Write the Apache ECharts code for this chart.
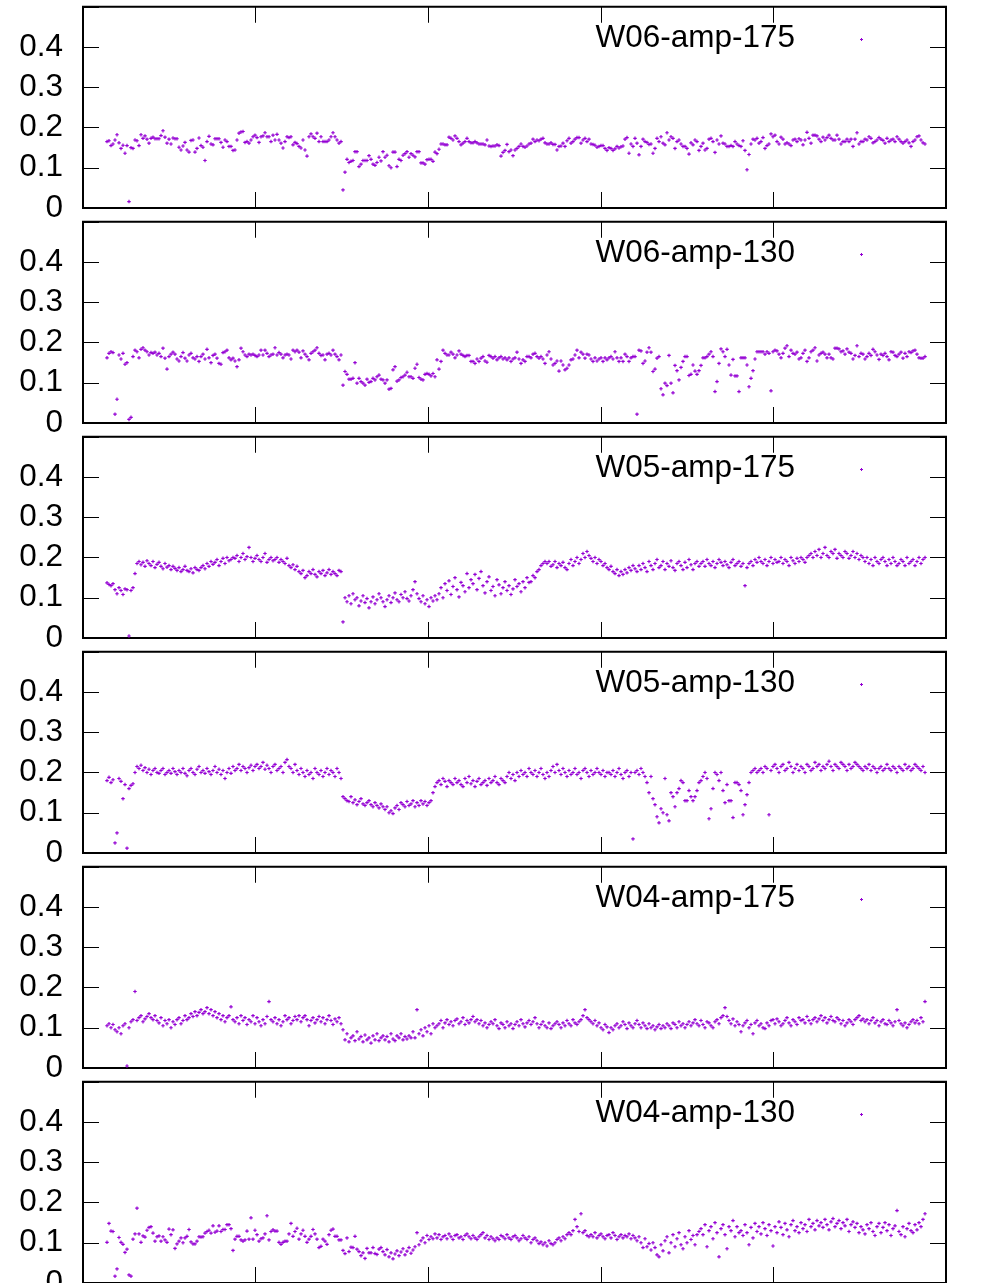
<!DOCTYPE html>
<html><head><meta charset="utf-8">
<script src="https://cdn.jsdelivr.net/npm/echarts/dist/echarts.min.js"></script>
<style>html,body{margin:0;padding:0;background:#fff}#c{width:983px;height:1283px}</style>
</head><body><div id="c"></div><script>
const seriesNames = ['W06-amp-175','W06-amp-130','W05-amp-175','W05-amp-130','W04-amp-175','W04-amp-130'];
const yTicks = [0, 0.1, 0.2, 0.3, 0.4];
const xTicks = [100, 200, 300, 400];

const w06amp175 = [
0.165,0.167,0.155,0.159,0.169,0.182,0.162,0.148,0.156,0.136,0.155,0.016,
0.150,0.148,0.169,0.167,0.155,0.182,0.173,0.179,0.171,0.161,0.173,0.176,0.172,0.172,0.172,0.18,0.192,0.176,0.161,0.171,0.159,0.174,0.172,0.172,0.151,0.144,0.154,0.163,0.144,0.139,0.168,0.169,0.139,0.148,0.174,0.155,0.151,0.118,0.165,0.178,0.159,0.157,0.172,0.172,0.172,0.163,0.151,
0.169,0.165,0.153,0.153,0.143,0.144,0.169,0.186,0.189,0.19,0.163,0.165,0.161,0.169,0.177,0.181,0.175,0.163,0.177,0.179,0.187,0.177,0.177,0.165,0.181,0.169,0.183,0.169,0.161,0.149,0.165,0.177,0.175,0.177,0.157,0.163,0.16,0.153,0.149,0.169,0.144,0.129,0.177,0.184,0.177,0.173,0.186,0.165,0.177,0.165,0.165,0.165,0.169,0.177,0.187,0.177,0.169,0.161,0.165,
0.045,
0.089,0.121,0.113,0.116,0.118,0.14,0.14,0.103,0.109,0.118,0.118,0.118,0.13,0.121,0.109,0.106,0.113,0.126,0.117,0.14,0.126,0.131,0.105,0.1,0.139,0.139,0.103,0.121,0.118,0.131,0.135,0.14,0.126,0.135,0.131,0.127,0.14,0.14,0.112,0.112,0.109,0.12,0.121,0.121,0.116,0.139,0.135,0.146,0.159,0.159,0.157,0.157,0.176,
0.173,0.169,0.179,0.173,0.165,0.157,0.161,0.165,0.173,0.165,0.162,0.162,0.165,0.162,0.159,0.159,0.159,0.157,0.169,0.154,0.153,0.154,0.154,0.157,0.155,0.129,0.138,0.143,0.158,0.14,0.144,0.13,0.144,0.148,0.153,0.159,0.153,0.151,0.154,0.159,0.161,0.171,0.165,0.169,0.167,0.171,0.173,0.162,0.159,0.159,0.162,0.158,
0.158,0.144,0.153,0.154,0.161,0.153,0.167,0.173,0.161,0.165,0.171,0.175,0.175,0.161,0.169,0.173,0.165,0.171,0.159,0.158,0.156,0.151,
0.153,0.155,0.155,0.148,0.143,0.15,0.148,0.143,0.147,0.153,0.149,0.152,0.154,0.171,0.175,0.136,0.159,0.153,0.173,0.161,0.132,0.153,0.171,0.165,0.163,0.158,
0.159,0.136,0.148,0.173,0.165,0.177,0.161,0.157,0.187,0.169,0.177,0.173,0.148,0.165,0.169,0.159,0.153,0.153,0.148,0.134,0.162,0.157,0.169,0.165,
0.143,0.153,0.161,0.144,0.148,0.171,0.173,0.165,0.138,0.169,0.159,0.179,0.161,0.159,0.153,0.153,0.155,0.153,0.165,0.159,
0.155,0.153,0.167,0.143,0.095,0.133,0.159,0.171,0.169,0.173,0.161,0.165,0.175,0.148,0.155,0.159,0.184,0.177,0.181,0.165,
0.159,0.176,0.171,0.159,0.162,0.159,0.155,0.169,0.171,0.165,0.172,0.169,0.157,0.169,0.188,0.173,0.161,0.181,0.181,0.179,0.171,0.165,0.176,0.169,
0.175,0.181,0.173,0.169,0.169,0.181,0.171,0.159,0.165,0.165,0.171,0.165,0.171,0.153,0.171,0.187,0.159,0.165,0.165,0.171,
0.169,0.177,0.173,0.162,0.165,0.169,0.175,0.171,0.168,0.161,0.173,0.165,0.169,0.171,
0.165,0.177,0.171,0.165,0.161,0.165,0.169,0.162,0.153,0.165,0.169,0.177,0.179,0.169,0.162,0.159
];

const w06amp130 = [
0.162,0.173,0.177,0.175,0.022,0.059,0.169,0.159,0.173,0.146,
0.15,0.009,0.014,0.165,0.181,0.177,0.162,0.183,0.187,0.181,
0.177,0.169,0.175,0.173,0.176,0.169,0.173,0.165,0.186,0.161,
0.134,0.165,0.171,0.176,0.171,0.159,0.154,0.165,0.175,0.161,
0.154,0.169,0.173,0.162,0.159,0.165,0.153,0.165,0.171,0.159,
0.183,0.162,0.15,0.168,0.171,0.161,0.148,0.146,0.175,0.177,
0.181,0.162,0.157,0.161,0.154,0.14,0.157,0.186,0.177,0.169,
0.165,0.171,0.169,0.171,0.168,0.165,0.169,0.181,0.169,0.181,
0.173,0.165,0.169,0.171,0.187,0.169,0.175,0.171,0.162,0.169,
0.171,0.169,0.159,0.181,0.177,0.181,0.176,0.162,0.179,0.171,
0.165,0.157,0.173,0.177,0.181,0.187,0.173,0.168,0.169,0.157,
0.171,0.173,0.169,0.181,0.171,0.165,0.157,0.169,
0.094,0.128,0.121,0.109,0.109,0.111,0.15,0.099,0.111,0.103,
0.099,0.094,0.109,0.101,0.103,0.111,0.107,0.115,0.119,0.109,
0.107,0.099,0.107,0.084,0.086,0.132,0.14,0.104,0.107,0.113,
0.115,0.119,0.126,0.115,0.115,0.111,0.136,0.146,0.113,0.109,
0.107,0.121,0.123,0.121,0.117,0.123,0.115,0.157,0.134,0.153,
0.181,0.173,0.169,0.169,0.176,0.171,0.162,0.169,0.179,0.171,
0.168,0.165,0.168,0.168,0.153,0.153,0.148,0.159,0.153,0.161,
0.165,0.154,0.151,0.168,0.165,0.161,0.165,0.157,0.162,0.165,
0.159,0.162,0.157,0.162,0.153,0.159,0.162,0.176,0.159,0.148,
0.157,0.153,0.165,0.165,0.162,0.171,0.173,0.165,0.161,0.165,
0.159,0.148,0.169,0.177,0.159,0.144,0.148,0.154,0.129,0.154,
0.144,0.132,0.136,0.144,0.157,0.159,0.169,0.181,0.162,0.176,
0.171,0.161,0.171,0.169,0.159,0.153,0.162,0.154,0.159,0.162,
0.153,0.162,0.157,0.162,0.165,0.159,0.177,0.162,0.153,0.162,
0.153,0.171,0.165,0.153,0.162,0.165,0.165,0.022,0.181,0.179,
0.148,0.154,0.176,0.187,0.176,0.128,0.134,0.161,0.165,0.085,
0.07,
0.099,0.093,0.168,0.099,0.075,0.143,0.13,0.107,0.138,0.153,
0.165,0.165,0.118,0.121,0.144,0.129,0.121,0.13,0.143,0.162,
0.162,0.165,0.171,0.177,0.165,0.078,0.103,0.148,0.184,0.177,
0.165,0.183,0.144,0.119,0.158,0.117,0.117,0.078,0.162,0.162,
0.162,0.144,0.09,0.111,0.13,0.159,0.177,
0.177,0.177,0.177,0.171,0.177,0.173,0.08,0.177,0.181,0.179,
0.171,0.162,0.173,0.186,0.192,0.165,0.181,0.173,0.171,0.176,
0.159,0.162,0.173,0.181,0.153,0.162,0.177,0.181,0.187,0.154,
0.169,0.173,0.176,0.171,0.162,0.171,0.162,0.159,0.186,0.186,
0.184,0.177,0.179,0.171,0.184,0.176,0.173,0.159,0.168,0.192,
0.165,0.173,0.171,0.159,0.165,0.173,0.168,0.183,0.177,0.169,
0.158,0.171,0.168,0.173,0.165,0.157,0.177,0.176,0.168,0.165,
0.171,0.176,0.161,0.173,0.165,0.177,0.175,0.179,0.181,0.171,
0.162,0.161,0.161,0.165
];

const w05amp175 = [
0.137,0.133,0.13,0.135,0.12,0.11,0.125,0.118,0.108,0.122,0.12,
0.005,
0.118,0.125,0.16,
0.185,0.19,0.182,0.188,0.178,0.192,0.185,0.18,0.19,0.175,0.183,0.188,0.178,0.172,0.185,0.176,0.18,0.17,0.178,0.173,
0.168,0.175,0.165,0.17,0.178,0.168,0.165,0.172,0.162,0.175,0.17,0.168,
0.175,0.18,0.172,0.185,0.178,0.19,0.183,0.188,0.195,0.18,0.19,0.198,0.185,0.2,0.192,0.195,0.2,
0.198,0.205,0.19,0.2,0.21,0.195,0.202,0.225,0.2,0.19,0.198,0.205,0.195,0.19,0.2,0.21,0.188,0.195,0.2,0.192,
0.195,0.2,0.188,0.195,0.19,0.185,0.198,0.18,
0.175,0.182,0.17,0.178,0.165,0.16,0.168,0.15,
0.155,0.165,0.16,0.17,0.158,0.152,0.165,0.16,0.168,0.155,0.162,0.17,0.158,0.165,0.16,0.155,0.168,0.165,
0.04,
0.1,0.09,0.105,0.085,0.11,0.095,0.1,0.08,0.092,0.105,0.088,0.098,0.075,0.09,0.102,0.085,0.095,0.11,0.1,0.09,0.078,0.095,0.105,0.088,0.1,0.112,0.095,0.09,0.108,0.1,0.115,0.098,0.092,0.105,0.12,0.14,0.11,0.098,0.09,0.105,0.085,0.095,0.078,0.1,0.092,0.105,
0.095,0.11,0.125,0.1,0.135,0.118,0.142,0.108,0.128,0.15,0.12,0.102,0.138,0.13,0.115,0.16,0.125,0.145,0.135,0.158,0.12,0.148,0.165,0.13,0.112,0.14,0.152,0.118,0.128,0.105,0.145,0.132,0.11,0.125,0.14,0.118,0.13,0.108,0.122,0.145,0.128,0.135,0.115,0.14,0.125,0.15,0.138,
0.14,0.155,0.15,0.165,0.17,0.18,0.185,0.19,
0.185,0.19,0.178,0.182,0.19,0.175,0.185,0.18,0.188,0.175,0.17,0.185,0.195,0.18,0.19,0.2,0.185,0.195,0.21,0.2,0.215,0.205,0.198,0.19,0.2,0.185,0.195,
0.19,0.18,0.185,0.175,0.17,0.178,0.165,0.16,0.17,0.155,0.165,0.158,0.17,0.162,0.175,0.168,0.18,0.172,0.165,0.18,
0.17,0.185,0.175,0.165,0.19,0.18,0.17,0.185,0.195,0.175,0.18,0.19,0.17,0.185,0.178,0.192,0.175,0.168,0.185,0.19,0.18,0.17,0.188,0.175,0.195,0.182,0.17,0.185,0.19,0.178,
0.185,0.19,0.178,0.195,0.185,0.18,0.19,0.175,0.185,0.195,0.188,0.18,0.19,0.182,0.175,0.188,0.195,0.18,0.185,0.19,0.178,0.185,
0.13,
0.175,0.185,0.19,0.18,0.195,0.188,0.2,0.19,0.185,0.195,0.18,0.19,0.2,0.185,0.195,0.188,0.19,0.2,0.185,0.195,0.19,0.18,0.2,0.192,0.185,0.198,0.19,0.2,0.195,0.188,0.2,0.205,
0.21,0.2,0.215,0.205,0.22,0.2,0.21,0.225,0.205,0.2,0.215,0.21,0.22,0.198,0.21,0.205,0.2,0.215,0.21,0.198,0.205,0.215,0.2,0.21,0.195,0.205,0.2,
0.19,0.2,0.185,0.195,0.18,0.2,0.19,0.185,0.195,0.2,0.19,0.18,0.195,0.185,0.2,0.19,0.18,0.185,0.195,0.19,0.18,0.2,0.185,0.19,0.195,0.18,0.19,0.2,0.185,0.195,0.2
];

const w05amp130 = [
0.18,0.188,0.175,0.182,0.025,0.05,0.185,0.178,0.135,0.17,0.012,0.16,0.168,0.172,0.2,
0.215,0.21,0.218,0.205,0.212,0.2,0.208,0.195,0.205,0.21,
0.2,0.198,0.205,0.21,0.195,0.2,0.205,0.198,0.21,0.202,
0.195,0.205,0.2,0.21,0.198,0.192,0.205,0.21,0.2,0.195,
0.208,0.215,0.2,0.205,0.198,0.21,0.202,0.195,0.205,0.215,
0.2,0.208,0.195,0.205,0.185,0.2,0.21,0.198,0.215,0.205,
0.21,0.22,0.205,0.215,0.21,0.2,0.212,0.218,0.205,0.215,
0.22,0.21,0.215,0.225,0.208,0.218,0.21,0.2,0.215,0.22,
0.205,0.21,0.215,0.2,0.225,0.232,0.215,0.21,0.2,0.22,
0.205,0.195,0.21,0.2,0.19,0.205,0.195,0.2,0.185,0.21,
0.2,0.195,0.205,0.19,0.2,0.21,0.195,0.205,0.2,0.19,
0.21,0.2,0.185,
0.14,
0.135,0.13,0.128,0.14,0.125,0.132,0.12,0.128,0.135,0.122,
0.118,0.125,0.13,0.12,0.115,0.125,0.118,0.112,0.122,0.115,
0.108,0.115,0.1,0.105,0.098,0.112,0.118,0.108,0.125,0.12,
0.115,0.128,0.118,0.122,0.13,0.115,0.125,0.118,0.13,0.122,
0.128,0.118,0.125,0.13,0.15,0.165,
0.175,0.18,0.17,0.185,0.178,0.165,0.18,0.175,0.17,0.185,
0.175,0.18,0.17,0.165,0.185,0.175,0.19,0.172,0.18,0.165,
0.178,0.185,0.17,0.175,0.18,0.168,0.185,0.175,0.18,0.19,
0.175,0.17,0.185,0.18,0.175,0.19,0.2,0.185,0.195,0.18,
0.2,0.19,0.205,0.195,0.2,0.19,0.21,0.2,0.195,0.205,
0.19,0.2,0.21,0.195,0.185,0.2,0.19,0.205,0.215,0.2,
0.22,0.205,0.195,0.21,0.2,0.19,0.205,0.195,0.2,0.21,
0.195,0.2,0.185,0.205,0.21,0.2,0.19,0.205,0.195,0.2,
0.21,0.2,0.195,0.205,0.19,0.2,
0.2,0.195,0.205,0.19,0.2,0.21,0.195,0.185,0.2,0.205,0.19,0.2,
0.035,
0.2,0.205,0.195,0.21,0.2,0.19,0.175,0.15,0.19,0.135,0.12,0.09,
0.075,0.11,0.1,0.185,0.095,0.08,0.15,0.14,0.115,0.15,
0.16,0.18,0.175,0.13,0.13,0.155,0.14,0.13,0.14,0.155,
0.175,0.18,0.19,0.2,0.185,0.085,0.11,0.16,0.2,0.195,
0.18,0.2,0.155,0.125,0.17,0.13,0.13,0.088,0.175,0.175,
0.17,0.155,0.095,0.12,0.145,0.175,0.2,0.205,0.21,0.2,
0.205,0.21,0.2,0.215,0.21,0.095,0.205,0.215,0.22,0.21,
0.2,0.215,0.22,0.205,0.21,0.225,0.215,0.2,0.21,0.22,
0.205,0.215,0.21,0.2,0.22,0.215,0.205,0.21,0.225,0.215,
0.22,0.205,0.215,0.21,0.22,0.228,0.215,0.205,0.22,0.215,
0.21,0.225,0.22,0.215,0.205,0.22,0.21,0.215,0.225,0.22,
0.215,0.21,0.205,0.215,0.21,0.22,0.205,0.215,0.21,0.2,
0.21,0.215,0.205,0.21,0.22,0.21,0.205,0.215,0.21,0.2,
0.215,0.21,0.205,0.22,0.21,0.215,0.205,0.21,0.22,0.215,
0.21,0.205,0.215,0.2
];

const w04amp175 = [
0.105,0.11,0.1,0.108,0.095,0.09,0.1,0.085,0.105,0.11,
0.005,0.1,0.115,0.12,0.19,
0.118,0.125,0.13,0.115,0.122,0.128,0.135,0.125,0.12,0.13,
0.118,0.112,0.125,0.105,0.118,0.11,0.12,0.1,0.115,0.108,
0.12,0.125,0.11,0.118,0.13,0.12,0.125,0.135,0.128,0.14,
0.13,0.138,0.145,0.135,0.14,0.15,0.135,0.145,0.13,0.14,
0.125,0.135,0.12,0.13,0.115,0.125,0.13,0.152,0.12,0.115,
0.125,0.11,0.13,0.118,0.125,0.108,0.12,0.115,0.13,0.11,
0.125,0.115,0.105,0.12,0.11,0.128,0.165,0.12,0.115,0.125,
0.11,0.12,0.105,0.115,0.13,0.12,0.125,0.11,0.118,0.128,
0.12,0.13,0.115,0.125,0.13,0.12,0.105,0.118,0.125,0.112,
0.12,0.128,0.115,0.125,0.11,0.12,0.13,0.118,0.108,0.122,
0.115,0.125,0.11,
0.095,0.07,0.085,0.065,0.075,0.08,0.068,0.09,0.072,0.078,
0.065,0.082,0.07,0.075,0.062,0.08,0.07,0.085,0.068,0.075,
0.08,0.07,0.078,0.065,0.085,0.072,0.068,0.08,0.075,0.085,
0.07,0.078,0.072,0.08,0.075,0.09,0.075,0.145,0.085,0.095,
0.08,0.1,0.09,0.105,0.085,0.11,0.1,
0.105,0.11,0.118,0.1,0.112,0.12,0.108,0.115,0.105,0.118,
0.122,0.11,0.115,0.125,0.108,0.118,0.112,0.12,0.128,0.115,
0.12,0.11,0.118,0.105,0.112,0.1,0.108,0.115,0.11,0.12,
0.105,0.098,0.112,0.108,0.1,0.115,0.105,0.11,0.098,0.108,
0.115,0.105,0.12,0.11,0.102,0.112,0.118,0.108,0.115,0.125,
0.11,0.1,0.108,0.115,0.105,0.1,0.112,0.098,0.105,0.11,
0.115,0.108,0.1,0.112,0.105,0.118,0.11,0.105,0.12,0.112,
0.108,0.115,0.12,0.13,0.145,0.125,0.12,0.115,0.11,0.118,
0.105,0.112,0.1,0.095,0.108,0.102,0.088,0.1,0.095,0.105,
0.11,0.1,0.105,0.115,0.108,0.098,0.112,0.105,0.1,0.11,
0.118,0.108,0.1,0.112,0.105,0.098,0.11,0.1,0.105,0.095,
0.102,0.108,0.098,0.105,0.1,0.11,0.105,0.098,0.112,0.108,
0.1,0.115,0.105,0.11,0.1,0.108,0.115,0.105,0.112,0.12,
0.11,0.105,0.118,0.108,0.1,0.115,0.112,0.105,0.1,0.115,
0.12,0.11,0.125,0.13,0.15,0.128,0.118,0.11,0.122,0.105,
0.115,0.108,0.09,0.105,0.112,0.118,0.1,0.108,0.085,0.112,
0.118,0.105,0.11,0.1,0.098,0.112,0.105,0.118,0.12,0.11,
0.122,0.115,0.105,0.11,0.118,0.125,0.112,0.105,0.12,0.115,
0.108,0.125,0.118,0.12,0.112,0.128,0.118,0.11,0.12,0.125,
0.115,0.122,0.13,0.118,0.125,0.112,0.12,0.128,0.118,0.115,
0.125,0.12,0.11,0.118,0.105,0.112,0.12,0.115,0.108,0.12,
0.125,0.13,0.118,0.122,0.115,0.12,0.11,0.118,0.125,0.112,
0.118,0.105,0.115,0.12,0.11,0.108,0.118,0.112,0.105,0.115,
0.145,0.118,0.11,0.105,0.112,0.1,0.108,0.115,0.12,0.112,
0.118,0.11,0.125,0.115,0.165
];

const w04amp130 = [
0.101,0.148,0.129,0.128,0.017,0.035,0.113,0.101,0.096,0.076,
0.084,0.02,0.017,0.109,0.122,0.186,0.122,0.101,0.117,0.114,
0.131,0.138,0.14,0.124,0.104,0.115,0.117,0.104,0.115,0.107,
0.101,0.134,0.12,0.132,0.086,0.097,0.104,0.112,0.1,0.112,
0.116,0.133,0.102,0.097,0.097,0.104,0.115,0.114,0.115,
0.124,0.128,0.131,0.124,0.142,0.126,0.129,0.142,0.128,0.133,
0.133,0.145,0.145,0.135,0.081,0.109,0.116,0.116,0.107,0.104,
0.107,0.129,0.109,0.162,0.109,0.131,0.12,0.104,0.11,0.112,
0.122,0.167,0.107,0.128,0.132,0.129,0.129,0.101,0.096,0.101,
0.104,0.104,0.122,0.148,0.116,0.128,0.136,0.109,0.122,0.131,
0.116,0.101,0.109,0.116,0.133,0.122,0.109,0.088,0.091,0.109,
0.104,0.096,0.12,0.131,0.134,0.116,0.116,0.107,0.107,
0.081,0.073,0.112,0.078,0.089,0.088,0.116,0.084,0.078,0.068,
0.075,0.061,0.086,0.075,0.075,0.088,0.073,0.071,0.084,0.088,
0.078,0.07,0.083,0.065,0.075,0.06,0.072,0.08,0.068,0.077,
0.085,0.07,0.079,0.088,0.074,0.082,0.09,0.125,0.095,
0.105,0.112,0.1,0.118,0.108,0.115,0.11,0.122,
0.112,0.12,0.108,0.115,0.118,0.11,0.122,0.115,0.108,0.118,
0.12,0.112,0.115,0.108,0.118,0.122,0.115,0.11,0.118,0.112,
0.108,0.115,0.12,0.125,0.112,0.118,0.108,0.115,0.11,0.105,
0.112,0.108,0.118,0.115,0.11,0.12,0.112,0.108,0.115,0.118,
0.112,0.105,0.11,0.118,0.112,0.108,0.115,0.1,0.108,0.112,
0.105,0.098,0.102,0.095,0.1,0.092,0.105,0.098,0.095,0.1,
0.108,0.112,0.105,0.115,0.11,0.12,0.125,
0.12,0.13,0.158,0.14,0.128,0.172,0.125,0.13,0.118,0.115,
0.12,0.115,0.125,0.112,0.118,0.122,0.115,0.11,0.118,0.12,
0.112,0.125,0.118,0.108,0.115,0.12,0.112,0.118,0.115,0.122,
0.11,0.118,0.112,0.105,0.115,
0.1,0.088,0.11,0.09,0.098,0.082,0.1,0.088,0.07,0.065,
0.095,0.08,0.105,0.115,0.075,0.1,0.12,0.09,0.11,0.125,
0.095,0.085,0.115,0.1,0.13,0.108,0.118,0.095,0.12,0.128,
0.135,0.12,0.145,0.09,0.13,0.14,0.11,0.15,0.125,0.065,
0.135,0.145,0.12,0.085,0.14,0.13,0.155,0.115,0.14,0.125,
0.13,0.118,0.145,0.125,0.095,0.138,0.112,0.148,0.128,0.14,
0.122,0.15,0.135,0.118,0.145,0.13,0.092,0.14,0.125,0.152,
0.138,0.12,0.148,0.132,0.115,0.145,0.155,0.13,0.14,0.125,
0.15,0.135,0.145,0.128,0.158,0.14,0.148,0.132,0.155,0.142,
0.15,0.138,0.158,0.145,0.132,0.152,0.16,0.14,0.148,0.155,
0.135,0.15,0.142,0.158,0.128,0.145,0.152,0.138,0.148,0.125,
0.14,0.132,0.122,0.145,0.135,0.15,0.128,0.118,0.14,0.148,
0.125,0.138,0.15,0.13,0.145,0.118,0.135,0.142,0.18,0.128,
0.12,0.14,0.115,0.135,0.148,0.13,0.125,0.145,0.132,0.15,
0.14,0.158,0.172
];

const seriesValues = [w06amp175, w06amp130, w05amp175, w05amp130, w04amp175, w04amp130];

const COLOR = '#9400d3';
const FONT = 'Liberation Sans';
const FS = 31.5;
const LEFT = 83, WIDTH = 863, TOP0 = 6.75, STEP = 215, HEIGHT = 201.25;
const PLUS = 'path://M1,0H2V1H3V2H2V3H1V2H0V1H1Z';

const grids = [], xAxes = [], yAxes = [], series = [], graphics = [];
seriesNames.forEach((name, k) => {
  const top = TOP0 + STEP * k;
  grids.push({left: LEFT, width: WIDTH, top: top, height: HEIGHT, show: true,
    borderColor: '#000', borderWidth: 2, backgroundColor: 'rgba(0,0,0,0)', containLabel: false, outerBoundsMode: 'none'});
  // sample-index axis (hidden) used by the points
  xAxes.push({gridIndex: k, type: 'value', min: -12, max: 419.5, show: false,
    axisLine: {onZero: false}});
  const tickAxis = {gridIndex: k, type: 'value', min: 0, max: 500, interval: 100,
    axisLine: {show: false, onZero: false}, axisLabel: {show: false}, splitLine: {show: false},
    axisTick: {show: true, inside: true, length: 16, lineStyle: {color: '#000', width: 1}}};
  xAxes.push(Object.assign({}, tickAxis, {position: 'bottom'}));
  xAxes.push(Object.assign({}, tickAxis, {position: 'top'}));
  const yBase = {gridIndex: k, type: 'value', min: 0, max: 0.5, interval: 0.1,
    axisLine: {show: false, onZero: false}, splitLine: {show: false},
    axisTick: {show: true, inside: true, length: 16, lineStyle: {color: '#000', width: 1}}};
  yAxes.push(Object.assign({}, yBase, {position: 'left',
    axisLabel: {show: true, margin: 20, color: '#000', fontSize: FS, fontFamily: FONT, padding: [3, 0, 0, 0],
      formatter: v => (yTicks.some(t => Math.abs(t - v) < 1e-9) ? String(Number(v.toFixed(1))) : '')}}));
  yAxes.push(Object.assign({}, yBase, {position: 'right', axisLabel: {show: false}}));
  series.push({name: name, type: 'scatter', xAxisIndex: 3 * k, yAxisIndex: 2 * k,
    symbol: PLUS, symbolSize: 3.5, itemStyle: {color: COLOR, opacity: 1}, silent: true,
    data: seriesValues[k].map((v, i) => [i, v])});
  const ly = 39 + STEP * k;
  graphics.push({type: 'text', x: 795, y: ly - 0.7, style: {text: name, fill: '#000',
    font: FS + 'px "' + FONT + '"', align: 'right', verticalAlign: 'middle'}});
  graphics.push({type: 'polygon', shape: {points: [[861, ly - 1], [862, ly - 1], [862, ly], [863, ly], [863, ly + 1], [862, ly + 1], [862, ly + 2], [861, ly + 2], [861, ly + 1], [860, ly + 1], [860, ly], [861, ly]]},
    style: {fill: COLOR}});
});

const chart = echarts.init(document.getElementById('c'), null, {renderer: 'canvas'});
chart.setOption({
  backgroundColor: '#fff',
  animation: false,
  grid: grids, xAxis: xAxes, yAxis: yAxes, series: series, graphic: graphics
});
</script></body></html>
